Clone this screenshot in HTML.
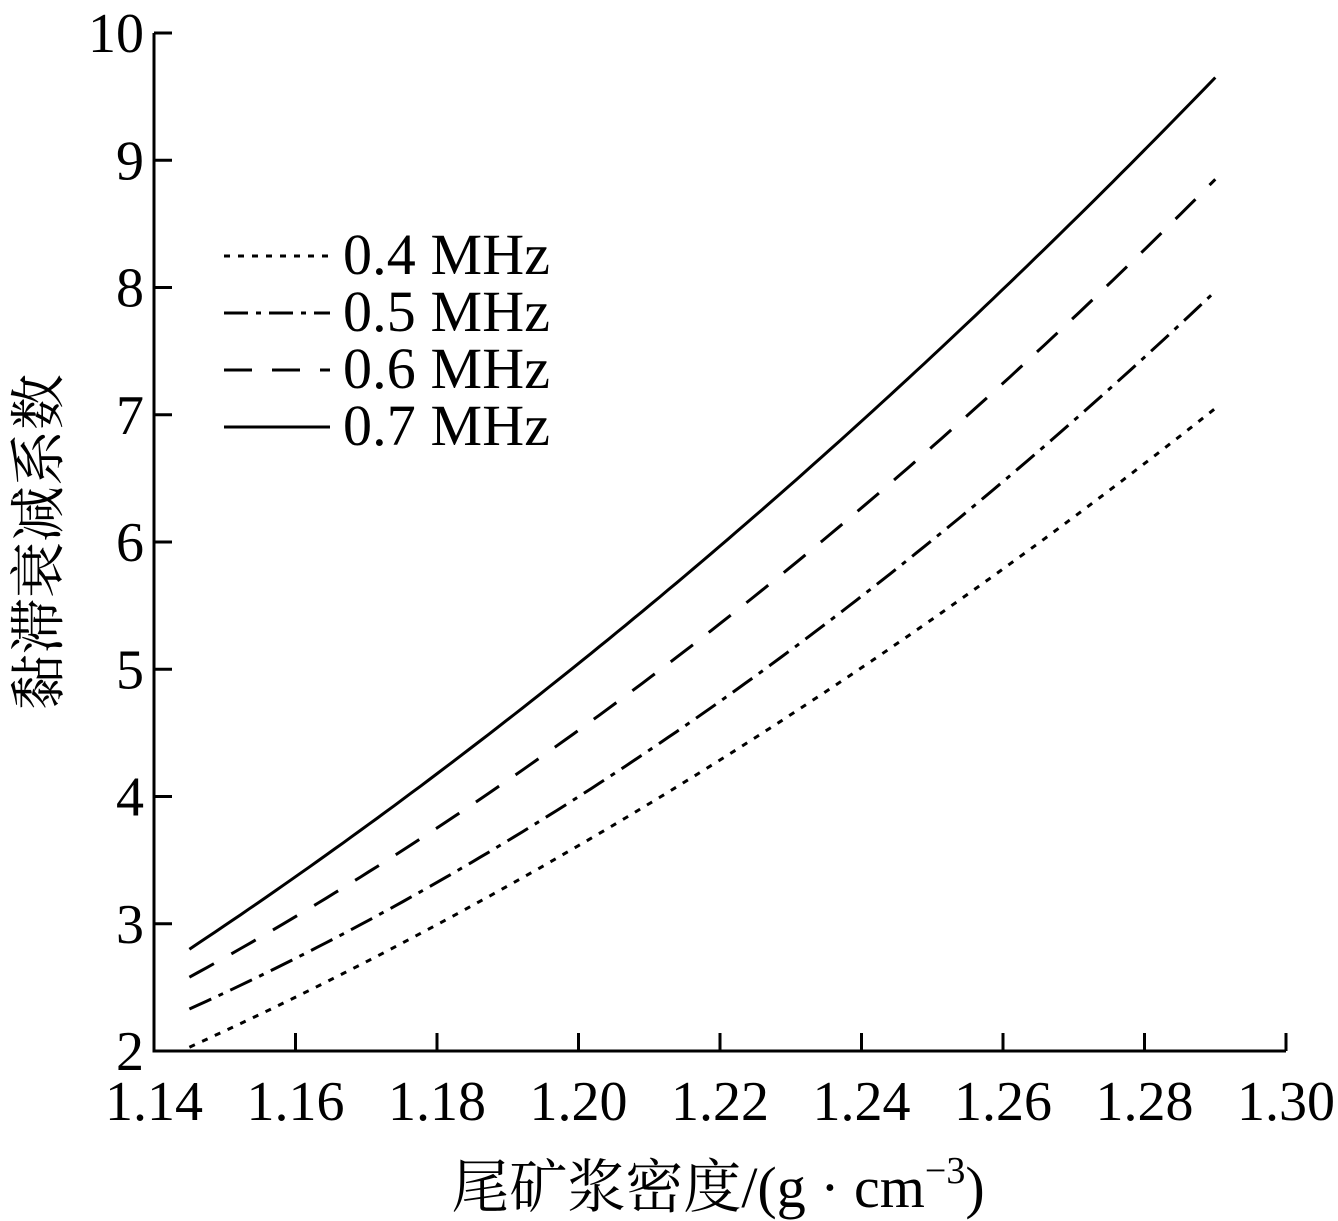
<!DOCTYPE html>
<html><head><meta charset="utf-8"><style>body{margin:0;background:#fff}svg{display:block}text{font-family:"Liberation Serif","Noto Serif CJK SC",serif;fill:#000}</style></head>
<body>
<svg id="s" width="1338" height="1221" viewBox="0 0 1338 1221" xmlns="http://www.w3.org/2000/svg">
<g stroke="#000" stroke-width="3" fill="none">
<path d="M154 33 V1051 H1286"/>
<g id="ticks"></g>
</g>
<g id="labels" font-size="56"></g>
<g id="curves" stroke="#000" stroke-width="3" fill="none"></g>
<g stroke="#000" stroke-width="3">
<line x1="224" y1="256" x2="330" y2="256" stroke-dasharray="6 8"/>
<line x1="224" y1="313" x2="330" y2="313" stroke-dasharray="24 8 5 8"/>
<line x1="224" y1="370" x2="330" y2="370" stroke-dasharray="28 20"/>
<line x1="224" y1="427" x2="330" y2="427"/>
</g>
<g font-size="58">
<text x="343" y="274" textLength="207">0.4 MHz</text>
<text x="343" y="331" textLength="207">0.5 MHz</text>
<text x="343" y="388" textLength="207">0.6 MHz</text>
<text x="343" y="445" textLength="207">0.7 MHz</text>
</g>
<text font-size="56" transform="translate(58,542) rotate(-90)" text-anchor="middle">黏滞衰减系数</text>
<text font-size="58" x="718" y="1207" text-anchor="middle">尾矿浆密度/(g · cm<tspan font-size="38" dy="-24">−3</tspan><tspan dy="24">)</tspan></text>
</svg>
<script>
var NS="http://www.w3.org/2000/svg";
function X(v){return 154+(v-1.14)/0.02*141.5}
function Y(v){return 1051-(v-2)*127.25}
var t=document.getElementById('ticks'),l=document.getElementById('labels');
function el(p,tag,a,txt){var e=document.createElementNS(NS,tag);for(var k in a)e.setAttribute(k,a[k]);if(txt)e.textContent=txt;p.appendChild(e);return e}
for(var i=0;i<=8;i++){var y=Y(2+i);el(t,'line',{x1:154,y1:y,x2:172,y2:y});el(l,'text',{x:144,y:y+19,'text-anchor':'end'},String(2+i))}
for(var i=0;i<=8;i++){var v=1.14+0.02*i,x=X(v);el(t,'line',{x1:x,y1:1051,x2:x,y2:1033});el(l,'text',{x:x,y:1120,'text-anchor':'middle'},v.toFixed(2))}
var S=[[2.03,4.2,7.05,"6 8"],[2.33,4.65,7.97,"24 8 5 8"],[2.58,5.25,8.85,"28 20"],[2.8,5.85,9.65,""]];
var c=document.getElementById('curves');
S.forEach(function(s){var y0=s[0],ym=s[1],y1=s[2],b=4*ym-3*y0-y1,cc=2*y1-4*ym+2*y0,pts=[];
for(var k=0;k<=120;k++){var u=k/120,x=1.145+0.145*u,y=y0+b*u+cc*u*u;pts.push(X(x).toFixed(1)+','+Y(y).toFixed(1))}
var a={points:pts.join(' ')};if(s[3])a['stroke-dasharray']=s[3];el(c,'polyline',a)});
</script>
</body></html>
